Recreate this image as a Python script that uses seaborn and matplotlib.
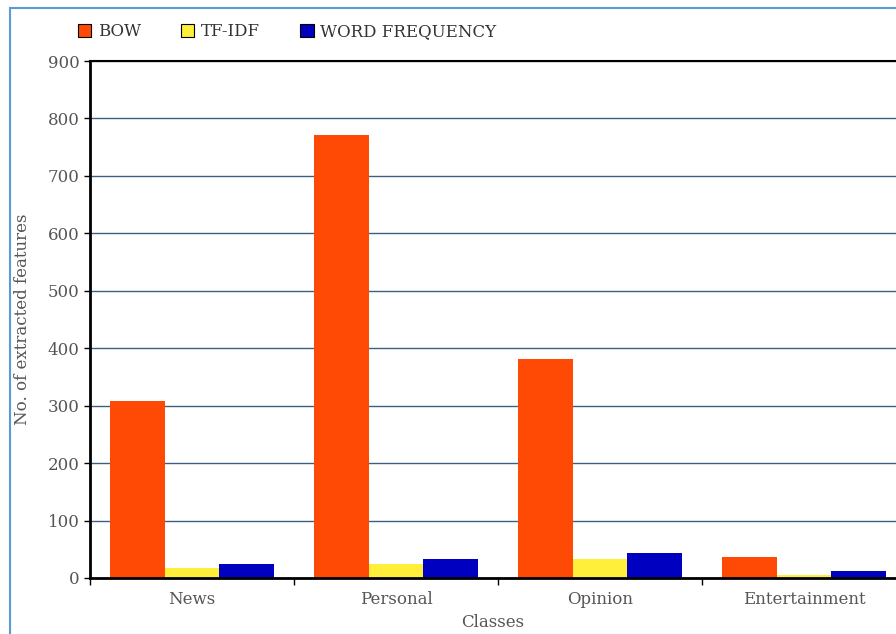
import matplotlib
matplotlib.use("Agg")
import matplotlib.pyplot as plt
import seaborn as sns
import pandas as pd
from matplotlib.patches import Rectangle, Patch

categories = ["News", "Personal", "Opinion", "Entertainment"]
series = ["BOW", "TF-IDF", "WORD FREQUENCY"]
bow = [308, 772, 381, 36]
tfidf = [18, 24, 33, 5]
word_freq = [24, 33, 44, 13]
colors = ["#FF4A05", "#FFEF3A", "#0000C0"]

rows = []
for name, vals in zip(series, [bow, tfidf, word_freq]):
    for c, v in zip(categories, vals):
        rows.append({"Class": c, "Method": name, "Value": v})
df = pd.DataFrame(rows)

sns.set_style("white")
plt.rcParams["font.family"] = ["DejaVu Serif"]
text_color = "#555555"

fig = plt.figure(figsize=(8.96, 6.34), dpi=100)
W, H = 896, 634
ax = fig.add_axes([90 / W, 1 - 578 / H, (W - 90) / W, (578 - 61) / H])

sns.barplot(data=df, x="Class", y="Value", hue="Method", order=categories,
            hue_order=series, palette=colors, width=0.8, saturation=1,
            edgecolor="none", ax=ax, legend=False)

ax.set_ylim(0, 900)
ax.set_xlim(-0.5, (W - 90) / 204 - 0.5)
ax.set_yticks(range(0, 1000, 100))
ax.yaxis.grid(True, color="#3d5f80", linewidth=1.0)
ax.set_axisbelow(True)
for s in ["left", "bottom", "top"]:
    ax.spines[s].set_visible(True)
    ax.spines[s].set_color("black")
ax.spines["left"].set_linewidth(2)
ax.spines["bottom"].set_linewidth(2)
ax.spines["top"].set_linewidth(1.5)
ax.spines["right"].set_visible(False)

ax.tick_params(axis="y", which="major", left=True, length=4, width=1,
               colors="black", labelcolor=text_color, labelsize=12)
ax.tick_params(axis="x", which="major", bottom=False, labelcolor=text_color,
               labelsize=12, pad=6)
ax.set_xticks([-0.5, 0.5, 1.5, 2.5], minor=True)
ax.tick_params(axis="x", which="minor", bottom=True, length=5, width=1, colors="black")

ax.set_xlabel("Classes", fontsize=12, color=text_color, labelpad=4)
ax.set_ylabel("No. of extracted features", fontsize=12, color=text_color, labelpad=12)

handles = [Patch(facecolor=c, edgecolor="black", linewidth=0.8) for c in colors]
fig.legend(handles, series, loc="center left", bbox_to_anchor=(63 / W, 1 - 32 / H),
           ncol=3, frameon=False, fontsize=12, handlelength=0.8, handleheight=0.8,
           handletextpad=0.4, columnspacing=2.4, labelcolor="#333333")

fig.patches.append(Rectangle((10 / W, -0.1), 1.2, 1 - 8 / H + 0.1, transform=fig.transFigure,
                             fill=False, edgecolor="#5b9bd5", linewidth=1.5, zorder=0))

fig.savefig("out.png", dpi=100)
